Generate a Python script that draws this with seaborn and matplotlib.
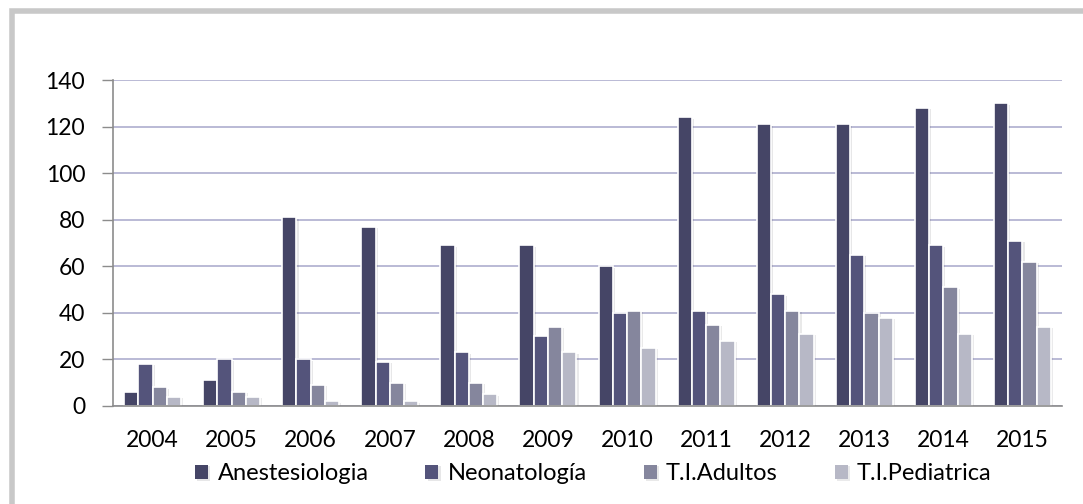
import numpy as np
import pandas as pd
import matplotlib
matplotlib.use("Agg")
import matplotlib.pyplot as plt
import matplotlib.patheffects as pe
from matplotlib.patches import Rectangle
import seaborn as sns

years = ["2004", "2005", "2006", "2007", "2008", "2009", "2010", "2011", "2012", "2013", "2014", "2015"]
anestesiologia = [6, 11, 81, 77, 69, 69, 60, 124, 121, 121, 128, 130]
neonatologia = [18, 20, 20, 19, 23, 30, 40, 41, 48, 65, 69, 71]
ti_adultos = [8, 6, 9, 10, 10, 34, 41, 35, 41, 40, 51, 62]
ti_pediatrica = [4, 4, 2, 2, 5, 23, 25, 28, 31, 38, 31, 34]

series = ["Anestesiologia", "Neonatología", "T.I.Adultos", "T.I.Pediatrica"]
colors = ["#3f3f6b", "#4d4e82", "#8182a1", "#b5b6c8"]

df = pd.DataFrame({"year": years * 4,
                   "serie": np.repeat(series, len(years)),
                   "value": anestesiologia + neonatologia + ti_adultos + ti_pediatrica})

sns.set_style("white")
plt.rcParams["font.family"] = ["Lato", "DejaVu Sans"]
plt.rcParams["text.color"] = "black"
plt.rcParams["xtick.color"] = "black"
plt.rcParams["ytick.color"] = "black"

fig = plt.figure(figsize=(10.83, 5.04), dpi=100)
# gray frame (only top/left visible in the original crop)
fig.patches.append(Rectangle((12 / 1083, -0.1), 1.2, (504 - 10.5) / 504 + 0.1,
                             transform=fig.transFigure, fill=False,
                             edgecolor="#c8c8c8", linewidth=4))

ax = fig.add_axes([113 / 1083, 1 - 406 / 504, 949 / 1083, 326 / 504])
sns.barplot(data=df, x="year", y="value", hue="serie", palette=colors,
            width=0.72, edgecolor="white", linewidth=1.2, ax=ax, legend=True)

for p in ax.patches:
    p.set_path_effects([pe.SimplePatchShadow(offset=(1.5, -1), alpha=0.1), pe.Normal()])

ax.set_ylim(0, 140)
ax.set_yticks(np.arange(0, 141, 20))
ax.set_xlim(-0.5, len(years) - 0.5)
ax.set_xticks(np.arange(len(years)))
ax.set_xticklabels(years)
ax.set_xticks(np.arange(-0.5, len(years)), minor=True)
ax.tick_params(axis="x", which="major", length=0, pad=17, labelsize=16.5, labelcolor="black")
ax.tick_params(axis="x", which="minor", length=8, width=1, color="#8c8c8c", direction="out")
ax.tick_params(axis="y", length=8, width=1, color="#8c8c8c", pad=12, labelsize=16.5,
               labelcolor="black", left=True)
ax.set_xlabel("")
ax.set_ylabel("")

ax.yaxis.grid(True, color="#b4b4d2", linewidth=1.3)
ax.set_axisbelow(True)
for s in ["top", "right"]:
    ax.spines[s].set_visible(False)
for s in ["left", "bottom"]:
    ax.spines[s].set_color("#8c8c8c")
    ax.spines[s].set_linewidth(1.2)

handles, labels = ax.get_legend_handles_labels()
for h in handles:
    h.set_edgecolor("none")
ax.get_legend().remove()
fig.legend(handles, labels, loc="center", bbox_to_anchor=(0.548, 1 - 474 / 504),
           ncol=4, frameon=False, fontsize=17, handlelength=0.55, handleheight=0.55,
           handletextpad=0.4, columnspacing=2.4, labelcolor="black")

fig.savefig("out.png", dpi=100)
